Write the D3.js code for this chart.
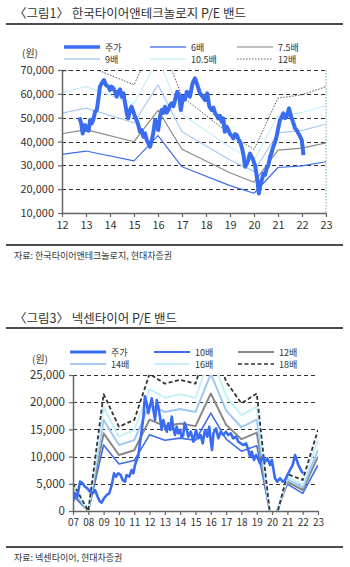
<!DOCTYPE html>
<html>
<head>
<meta charset="utf-8">
<title>P/E band</title>
<script src="https://cdn.jsdelivr.net/npm/d3@7"></script>
<style>
  body { margin: 0; background: #fff; }
  text { font-family: "Noto Sans CJK KR", "Noto Sans", sans-serif; fill: #333; }
</style>
</head>
<body>
<svg width="350" height="567" id="mainsvg"></svg>
<script>
  // ---- chart 1 : 한국타이어앤테크놀로지 ----
  const topYears = [12, 13, 15, 16, 17, 19, 20, 21, 22, 23];
  const topPe6 = [34600, 36000, 31900, 42500, 29400, 21500, 18300, 29100, 29800, 31500];
  const topPe75 = [43250, 45000, 39900, 53100, 36750, 26900, 22900, 36400, 37250, 39400];
  const topPe9 = [51900, 54000, 47850, 63750, 44100, 32250, 27450, 43650, 44700, 47250];
  const topPe105 = [60550, 63000, 55850, 74400, 51450, 37600, 32000, 50900, 52150, 55100];
  const topPe12 = [69200, 72000, 63800, 85000, 58800, 43000, 36600, 58200, 59600, 63000];
  const topPrice = [
    [12.72, 50100], [12.8, 47600], [12.86, 43400], [12.96, 46900], [13.0, 44800], [13.05, 46200],
    [13.11, 44500], [13.17, 49000], [13.24, 47600], [13.3, 49000], [13.38, 52500], [13.45, 53200],
    [13.51, 57400], [13.58, 63000], [13.65, 64400], [13.75, 65800], [13.83, 63700], [13.93, 63000],
    [14.0, 61600], [14.07, 63000], [14.14, 62300], [14.21, 60900], [14.28, 58800], [14.35, 60900],
    [14.42, 61900], [14.49, 58800], [14.56, 60200], [14.63, 56000], [14.7, 51800], [14.76, 49700],
    [14.83, 53200], [14.9, 54600], [14.97, 52500], [15.04, 50400], [15.11, 49000], [15.18, 46900],
    [15.25, 44100], [15.32, 44800], [15.39, 42000], [15.46, 43400], [15.53, 40600], [15.6, 39200],
    [15.67, 37800], [15.74, 40600], [15.8, 43400], [15.88, 49000], [15.95, 47600], [16.01, 44800],
    [16.08, 50400], [16.15, 53200], [16.22, 52000], [16.29, 54600], [16.36, 52100], [16.43, 53200],
    [16.5, 55200], [16.57, 56000], [16.64, 54800], [16.71, 57400], [16.8, 60900], [16.89, 58800],
    [16.95, 53200], [17.05, 58800], [17.12, 57600], [17.2, 60900], [17.27, 59900], [17.33, 58800],
    [17.44, 64400], [17.54, 66500], [17.64, 63700], [17.75, 60200], [17.86, 58800], [17.96, 57400],
    [18.05, 60200], [18.14, 54600], [18.24, 53200], [18.31, 54200], [18.38, 51800], [18.45, 50900],
    [18.51, 49700], [18.58, 50800], [18.65, 48300], [18.72, 49700], [18.78, 44100], [18.86, 46200],
    [18.93, 44800], [19.0, 43200], [19.07, 42400], [19.14, 41300], [19.21, 43100], [19.28, 42700],
    [19.35, 41000], [19.42, 39900], [19.49, 37600], [19.55, 35000], [19.63, 29400], [19.7, 30600],
    [19.76, 32200], [19.83, 35000], [19.89, 33700], [19.94, 32900], [20.04, 30100], [20.09, 27200],
    [20.14, 23800], [20.2, 18200], [20.24, 20600], [20.28, 22400], [20.34, 24300], [20.39, 26600],
    [20.46, 26000], [20.53, 28700], [20.6, 30200], [20.67, 33600], [20.73, 35200], [20.8, 37800],
    [20.87, 39500], [20.94, 42000], [21.01, 45600], [21.08, 49000], [21.15, 50200], [21.22, 51800],
    [21.29, 49800], [21.36, 50400], [21.41, 52100], [21.46, 53900], [21.52, 51400], [21.57, 49700],
    [21.64, 47800], [21.71, 45500], [21.78, 44800], [21.85, 43400], [21.92, 42100], [21.99, 40600],
    [22.03, 37200], [22.06, 34300]
  ];
  const topYTicks = [10000, 20000, 30000, 40000, 50000, 60000, 70000];

  // ---- chart 3 : 넥센타이어 ----
  const botYears = [7, 8, 9, 10, 11, 12, 13, 14, 15, 16, 17, 18, 19, 20, 21, 22, 23];
  const botPe10 = [2800, 0, 12130, 8640, 9300, 14000, 13000, 13400, 13000, 18000, 13200, 11000, 12000, -2300, 4950, 3250, 8460];
  const botPe12 = [3400, 0, 14280, 10300, 11160, 16800, 15600, 16080, 15600, 21600, 15840, 13200, 14400, -2760, 5350, 3860, 9980];
  const botPe14 = [3950, 0, 16730, 12130, 13020, 19600, 18200, 18760, 18200, 25200, 18480, 15400, 16800, -3220, 5800, 4350, 11210];
  const botPe16 = [4500, 0, 19060, 13660, 14880, 22400, 20800, 21440, 20800, 28800, 21120, 17600, 19200, -3680, 6300, 4780, 13050];
  const botPe18 = [5100, 0, 21500, 15500, 16740, 25200, 23400, 24120, 23400, 32400, 23760, 19800, 21600, -4140, 6800, 5700, 14890];
  const botPrice = [
    [7.0, 1710], [7.13, 3250], [7.28, 2630], [7.46, 5390], [7.63, 5090], [7.78, 4470], [7.93, 4170],
    [8.11, 3550], [8.29, 3250], [8.44, 3860], [8.61, 2630], [8.76, 1710], [8.87, 1530], [9.02, 2330],
    [9.2, 2940], [9.37, 3250], [9.53, 4780], [9.68, 6930], [9.81, 6310], [9.96, 6930], [10.11, 6620],
    [10.24, 5700], [10.4, 5390], [10.5, 6620], [10.68, 6310], [10.83, 7540], [10.94, 6930], [11.05, 8460],
    [11.16, 9380], [11.27, 10290], [11.37, 12440], [11.49, 14890], [11.6, 17340], [11.7, 21100],
    [11.81, 19800], [11.92, 17960], [12.03, 19300], [12.14, 20710], [12.25, 18570], [12.36, 16730],
    [12.47, 20400], [12.57, 19170], [12.68, 17340], [12.79, 14890], [12.9, 16730], [13.01, 15500],
    [13.12, 14580], [13.22, 16120], [13.34, 14890], [13.45, 17340], [13.55, 15200], [13.66, 13970],
    [13.77, 15500], [13.88, 14280], [13.99, 14890], [14.1, 13500], [14.2, 13970], [14.29, 16200],
    [14.38, 15500], [14.53, 13660], [14.69, 14580], [14.86, 12740], [15.03, 14890], [15.18, 13360],
    [15.34, 13970], [15.47, 12440], [15.62, 14890], [15.77, 13660], [15.9, 15500], [15.99, 13050],
    [16.08, 11210], [16.17, 14280], [16.34, 15200], [16.49, 13360], [16.65, 14580], [16.82, 13970],
    [16.99, 14580], [17.14, 13970], [17.3, 14280], [17.47, 13360], [17.65, 13660], [17.8, 12740],
    [17.95, 12440], [18.12, 12130], [18.3, 12440], [18.45, 11210], [18.56, 9980], [18.67, 10900],
    [18.82, 9380], [18.95, 10290], [19.08, 9600], [19.21, 8770], [19.39, 9980], [19.54, 9060],
    [19.69, 9680], [19.87, 8460], [19.98, 9380], [20.08, 7850], [20.19, 6010], [20.34, 5390],
    [20.52, 6010], [20.7, 5390], [20.85, 5700], [21.0, 6620], [21.17, 7540], [21.35, 8460],
    [21.5, 10290], [21.61, 9380], [21.72, 8460], [21.83, 7850], [21.94, 7230], [22.04, 6930]
  ];
  const botYTicks = [0, 5000, 10000, 15000, 20000, 25000];

  const svg = d3.select('#mainsvg');
  const fmt = d3.format(',');

  const drawHeader = function (title, ty, lineY) {
    svg.append('text').attr('x', 14).attr('y', ty)
      .attr('font-size', 12.5).attr('fill', '#222').text(title);
    svg.append('line').attr('x1', 6).attr('x2', 343).attr('y1', lineY).attr('y2', lineY)
      .attr('stroke', '#111').attr('stroke-width', 1.6);
  };
  const drawSource = function (txt, lineY) {
    svg.append('line').attr('x1', 6).attr('x2', 343).attr('y1', lineY).attr('y2', lineY)
      .attr('stroke', '#111').attr('stroke-width', 1.6);
    svg.append('text').attr('x', 14).attr('y', lineY + 14)
      .attr('font-size', 9).attr('fill', '#222').text(txt);
  };

  const legend = function (items, x0, y0) {
    items.forEach((it, i) => {
      const col = i % 3, row = Math.floor(i / 3);
      const lx = x0[col], ly = y0 + row * 12;
      svg.append('line').attr('x1', lx).attr('x2', lx + 36).attr('y1', ly).attr('y2', ly)
        .attr('stroke', it.color).attr('stroke-width', it.w)
        .attr('stroke-dasharray', it.dash || null);
      svg.append('text').attr('x', lx + 41).attr('y', ly + 3.5)
        .attr('font-size', 9).attr('fill', '#444').text(it.name);
    });
  };

  // generic panel
  const panel = function (cfg) {
    const x = d3.scaleLinear().domain(cfg.xDomain).range(cfg.xRange);
    const y = d3.scaleLinear().domain(cfg.yDomain).range(cfg.yRange);
    const g = svg.append('g');

    g.append('clipPath').attr('id', cfg.id)
      .append('rect').attr('x', cfg.xRange[0]).attr('y', cfg.yRange[1])
      .attr('width', cfg.xRange[1] - cfg.xRange[0]).attr('height', cfg.yRange[0] - cfg.yRange[1] + 0.5);

    // grid
    g.selectAll('.grid').data(cfg.yTicks.filter(d => d !== cfg.yDomain[0]))
      .join('line').attr('class', 'grid')
      .attr('x1', cfg.xRange[0]).attr('x2', cfg.xRange[1])
      .attr('y1', d => Math.round(y(d)) + 0.5).attr('y2', d => Math.round(y(d)) + 0.5)
      .attr('stroke', '#333').attr('stroke-dasharray', '4,3').attr('stroke-width', 1);

    if (cfg.rightLine) {
      g.append('line').attr('x1', cfg.xRange[1]).attr('x2', cfg.xRange[1])
        .attr('y1', cfg.yRange[1]).attr('y2', cfg.yRange[0])
        .attr('stroke', '#6aaec8').attr('stroke-dasharray', '1.5,1.5');
    }

    const lines = g.append('g').attr('clip-path', `url(#${cfg.id})`);
    cfg.bands.forEach(b => {
      const line = d3.line().x((d, i) => x(cfg.bandYears[i])).y(d => y(d));
      lines.append('path').attr('d', line(b.values))
        .attr('fill', 'none').attr('stroke', b.color).attr('stroke-width', b.w)
        .attr('stroke-dasharray', b.dash || null).attr('stroke-linejoin', 'round');
    });
    const pline = d3.line().x(d => x(d[0])).y(d => y(d[1]));
    lines.append('path').attr('d', pline(cfg.price))
      .attr('fill', 'none').attr('stroke', cfg.priceColor).attr('stroke-width', cfg.priceW)
      .attr('stroke-linejoin', 'round');

    // axes
    const xAxis = d3.axisBottom(x).tickValues(d3.range(cfg.xDomain[0], cfg.xDomain[1] + 1))
      .tickFormat(d => cfg.xFmt(d)).tickSize(4).tickSizeOuter(0).tickPadding(4);
    const ax = g.append('g').attr('transform', `translate(0,${cfg.yRange[0]})`).call(xAxis);
    ax.select('.domain').attr('stroke', '#666').attr('stroke-width', 1.5);
    ax.selectAll('.tick line').attr('stroke', '#666').attr('stroke-width', 1.2);
    ax.selectAll('text').attr('font-size', cfg.xFont).attr('fill', '#333')
      .attr('font-family', '"Noto Sans CJK KR", sans-serif');

    const yAxis = d3.axisLeft(y).tickValues(cfg.yTicks).tickFormat(fmt)
      .tickSize(4).tickSizeOuter(0).tickPadding(4);
    const ay = g.append('g').attr('transform', `translate(${cfg.xRange[0]},0)`).call(yAxis);
    ay.select('.domain').attr('stroke', '#666').attr('stroke-width', 1.5);
    ay.selectAll('.tick line').attr('stroke', '#666').attr('stroke-width', 1.2);
    ay.selectAll('text').attr('font-size', cfg.yFont).attr('fill', '#333')
      .attr('font-family', '"Noto Sans CJK KR", sans-serif');

    svg.append('text').attr('x', cfg.unitX).attr('y', cfg.unitY)
      .attr('font-size', 10).attr('fill', '#444').text('(원)');
  };

  // ===== chart 1 =====
  drawHeader('〈그림1〉 한국타이어앤테크놀로지 P/E 밴드', 18, 24);
  legend([
    { name: '주가', color: '#3a6cf2', w: 3.5 },
    { name: '6배', color: '#7e9ff2', w: 2 },
    { name: '7.5배', color: '#aaaaaa', w: 1.5 },
    { name: '9배', color: '#c4dcf6', w: 2 },
    { name: '10.5배', color: '#d8f4fb', w: 2 },
    { name: '12배', color: '#666', w: 1, dash: '1.5,1.5' }
  ], [64, 150, 237], 47);

  panel({
    id: 'clip1',
    xDomain: [12, 23], xRange: [62, 326],
    yDomain: [10000, 70000], yRange: [213, 70],
    yTicks: topYTicks, xFmt: d => d, xFont: 11, yFont: 11,
    bandYears: topYears,
    bands: [
      { values: topPe6, color: '#3d6ee8', w: 1.2 },
      { values: topPe75, color: '#8a8a8a', w: 1.2 },
      { values: topPe9, color: '#a9cbf2', w: 1.2 },
      { values: topPe105, color: '#c6f0fa', w: 1.2 },
      { values: topPe12, color: '#555', w: 1, dash: '1.5,1.5' }
    ],
    price: topPrice, priceColor: '#3a6cf2', priceW: 4,
    rightLine: true, unitX: 22, unitY: 57
  });
  drawSource('자료: 한국타이어앤테크놀로지, 현대차증권', 245);

  // ===== chart 3 =====
  drawHeader('〈그림3〉 넥센타이어 P/E 밴드', 323, 328);
  legend([
    { name: '주가', color: '#3a6cf2', w: 3 },
    { name: '10배', color: '#3d6ee8', w: 2 },
    { name: '12배', color: '#8a8a8a', w: 2 },
    { name: '14배', color: '#a9cbf2', w: 2 },
    { name: '16배', color: '#c6f0fa', w: 2 },
    { name: '18배', color: '#333', w: 1.6, dash: '4,2.5' }
  ], [70, 154, 238], 352);

  panel({
    id: 'clip3',
    xDomain: [7, 23], xRange: [73, 318],
    yDomain: [0, 25000], yRange: [511, 375],
    yTicks: botYTicks, xFmt: d => d3.format('02')(d), xFont: 10, yFont: 11.5,
    bandYears: botYears,
    bands: [
      { values: botPe10, color: '#3d6ee8', w: 1.6 },
      { values: botPe12, color: '#888', w: 2 },
      { values: botPe14, color: '#a0c8f4', w: 2 },
      { values: botPe16, color: '#c6f0fa', w: 2 },
      { values: botPe18, color: '#333', w: 1.8, dash: '4,2.5' }
    ],
    price: botPrice, priceColor: '#3a6cf2', priceW: 2.6,
    rightLine: false, unitX: 32, unitY: 363
  });
  drawSource('자료: 넥센타이어, 현대차증권', 547);
</script>
</body>
</html>
